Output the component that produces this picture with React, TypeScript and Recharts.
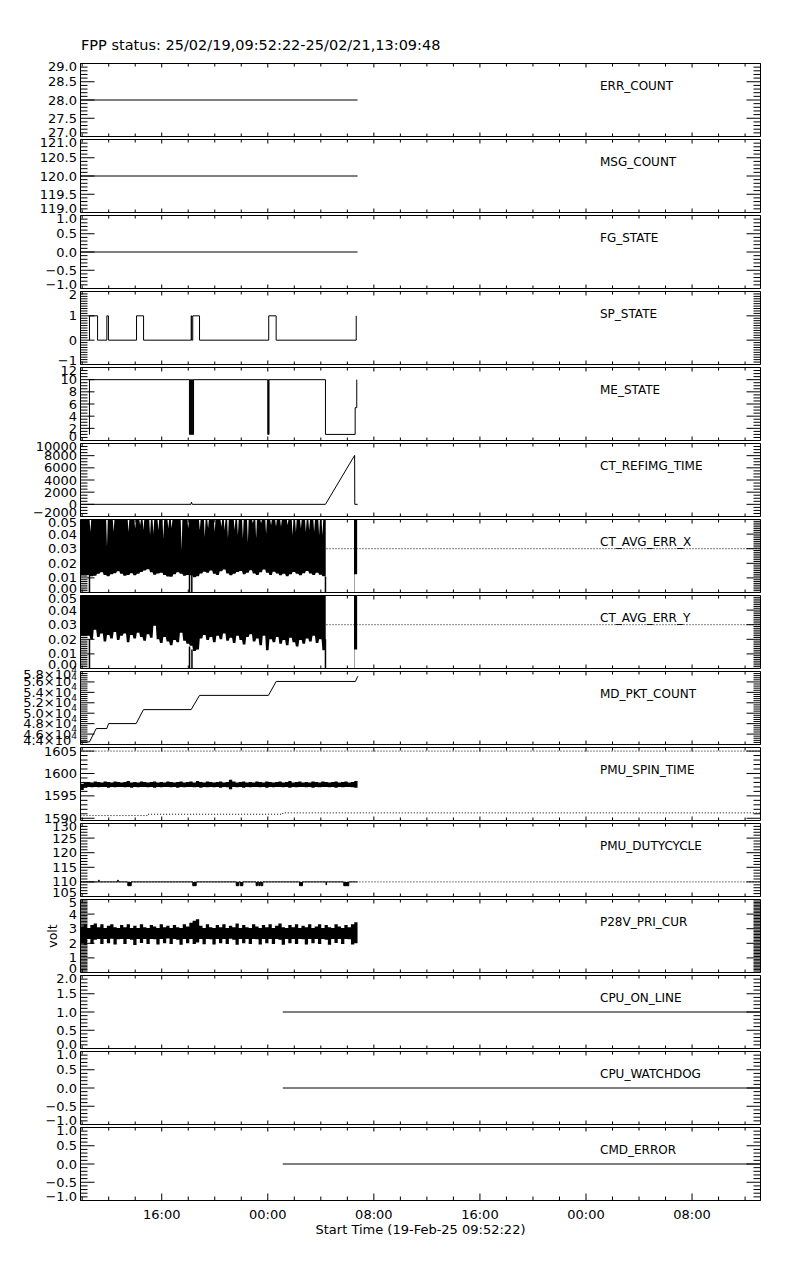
import React from 'react';
import { ComposedChart, Line, Area, XAxis, YAxis, ReferenceArea } from 'recharts';

const FONT = '"DejaVu Sans", sans-serif';

// ---------- time axis: hours counted from 19-Feb-25 00:00 ----------
const T_START = 9.873; // 19-Feb-25 09:52:22
const T_END = 61.163; // 21-Feb-25 13:09:48
const X_TICKS = [10, 12, 14, 16, 18, 20, 22, 24, 26, 28, 30, 32, 34, 36, 38, 40, 42, 44, 46, 48, 50, 52, 54, 56, 58, 60];
const X_MAJOR = [16, 24, 32, 40, 48, 56];
const X_MAJOR_LABELS = ['16:00', '00:00', '08:00', '16:00', '00:00', '08:00'];
const TITLE = 'FPP status: 25/02/19,09:52:22-25/02/21,13:09:48';
const X_TITLE = 'Start Time (19-Feb-25 09:52:22)';

// ---------- series ----------
const ERR_COUNT_T = [9.87, 30.77];
const ERR_COUNT_V = [28, 28];
const MSG_COUNT_T = [9.87, 30.77];
const MSG_COUNT_V = [120, 120];
const FG_STATE_T = [9.87, 30.77];
const FG_STATE_V = [0, 0];

const SP_STATE_T = [10.54, 10.55, 11.16, 11.86, 11.98, 14.10, 14.63, 18.22, 18.26, 18.34, 18.85, 24.07, 24.63, 30.67];
const SP_STATE_V = [0, 1, 0, 1, 0, 1, 0, 1, 0, 1, 0, 1, 0, 1];

const ME_STATE_T = [10.54, 10.55, 18.09, 18.13, 18.16, 18.20, 18.23, 18.27, 18.30, 18.34, 18.37, 18.40, 24.00, 24.04, 24.06, 24.09, 28.35, 30.59, 30.71];
const ME_STATE_V = [1, 10, 1, 10, 1, 10, 1, 10, 1, 10, 1, 10, 1, 10, 1, 10, 1, 5.4, 10];

const REFIMG_T = [9.87, 18.20, 18.24, 18.30, 28.35, 30.55, 30.56, 30.78];
const REFIMG_V = [0, 0, 350, 0, 0, 8050, 0, 0];

// CT_AVG_ERR: sample grid + lower envelope (one value per 0.25 h), upper-envelope dips
const ERR_T0 = 9.87;
const ERR_DT = 0.25;
const ERR_SUB = 4;
const ERR_TOP = 0.05;
const ERR_LIMIT = 0.03;
const ERR_X_LO = [
  0.0118, 0.0118, 0.0120, 0.0112, 0.0115, 0.0128, 0.0138, 0.0120, 0.0112, 0.0125,
  0.0132, 0.0145, 0.0128, 0.0115, 0.0120, 0.0132, 0.0118, 0.0128, 0.0140, 0.0150,
  0.0160, 0.0138, 0.0122, 0.0130, 0.0135, 0.0120, 0.0110, 0.0108, 0.0125, 0.0138,
  0.0128, 0.0115, 0.0120, 0.0118, 0.0105, 0.0112, 0.0130, 0.0142, 0.0135, 0.0150,
  0.0128, 0.0120, 0.0145, 0.0158, 0.0130, 0.0118, 0.0128, 0.0140, 0.0148, 0.0125,
  0.0135, 0.0152, 0.0130, 0.0120, 0.0138, 0.0158, 0.0135, 0.0120, 0.0142, 0.0130,
  0.0118, 0.0128, 0.0112, 0.0125, 0.0140, 0.0128, 0.0118, 0.0132, 0.0148, 0.0130,
  0.0120, 0.0135, 0.0122, 0.0112, 0.0110,
];
// [half-sample index, upper value]
const ERR_X_HI_DIPS = [
  [6, 0.0415], [16, 0.0312], [20, 0.0415], [29, 0.0415], [33, 0.0438], [36, 0.046], [38, 0.0426],
  [42, 0.0392], [44, 0.040], [47, 0.0426], [50, 0.037], [53, 0.044], [55, 0.044], [61, 0.029],
  [65, 0.044], [72, 0.0426], [75, 0.038], [77, 0.044], [81, 0.0415], [85, 0.045], [87, 0.0426],
  [89, 0.037], [93, 0.0426], [95, 0.039], [98, 0.037], [101, 0.034], [104, 0.0475], [106, 0.037],
  [109, 0.0475], [112, 0.040], [115, 0.046], [118, 0.045], [121, 0.045], [125, 0.046], [128, 0.039],
  [130, 0.0415], [133, 0.044], [136, 0.0415], [138, 0.0426], [141, 0.0415], [144, 0.039], [146, 0.039],
];
const ERR_Y_LO = [
  0.0226, 0.0226, 0.0225, 0.0200, 0.0265, 0.0215, 0.0240, 0.0185, 0.0230, 0.0205,
  0.0250, 0.0195, 0.0225, 0.0240, 0.0180, 0.0230, 0.0205, 0.0245, 0.0215, 0.0190,
  0.0235, 0.0210, 0.0292, 0.0200, 0.0175, 0.0215, 0.0185, 0.0160, 0.0195, 0.0180,
  0.0245, 0.0190, 0.0170, 0.0155, 0.0120, 0.0130, 0.0205, 0.0230, 0.0195, 0.0215,
  0.0180, 0.0225, 0.0200, 0.0240, 0.0190, 0.0210, 0.0175, 0.0225, 0.0195, 0.0165,
  0.0215, 0.0235, 0.0185, 0.0205, 0.0160, 0.0225, 0.0125, 0.0200, 0.0180, 0.0215,
  0.0170, 0.0195, 0.0160, 0.0210, 0.0180, 0.0150, 0.0195, 0.0170, 0.0205, 0.0185,
  0.0225, 0.0175, 0.0200, 0.0125, 0.0180,
];
const ERR_Y_HI_DIPS: number[][] = [];
// drops to zero
const ERR_X_DROP_T = [10.55, 18.095, 18.27, 28.35];
const ERR_X_DROP_TOP = [0.012, 0.012, 0.012, 0.011];
const ERR_Y_DROP_T = [10.55, 18.095, 18.28, 28.35];
const ERR_Y_DROP_TOP = [0.020, 0.015, 0.013, 0.020];
// short burst at the end
const ERR_TAIL_T = [30.50, 30.53, 30.74];
const ERR_X_TAIL_LO = [0, 0.0125, 0.0125];
const ERR_Y_TAIL_LO = [0, 0.013, 0.013];

const MD_PKT_T = [9.87, 10.55, 11.06, 11.86, 11.99, 14.07, 14.62, 18.22, 18.85, 24.05, 24.63, 30.61, 30.79];
const MD_PKT_V = [44500, 44500, 47060, 47060, 48010, 48010, 50690, 50690, 53420, 53420, 56090, 56090, 57100];

// dense telemetry bands: grid from start to end of data
const BAND_T0 = 9.87;
const BAND_DT = 0.2488;
const SPIN_HI = [
  1597.7, 1598.0, 1598.1, 1598.0, 1598.2, 1598.1, 1598.0, 1598.2, 1598.1, 1598.0,
  1598.2, 1598.1, 1598.0, 1598.1, 1598.3, 1598.0, 1598.1, 1598.0, 1598.2, 1598.1,
  1598.0, 1598.1, 1598.2, 1598.0, 1598.1, 1598.0, 1598.2, 1598.1, 1598.0, 1598.1,
  1598.2, 1598.0, 1598.1, 1598.2, 1598.0, 1598.3, 1598.1, 1598.0, 1598.2, 1598.1,
  1598.0, 1598.1, 1598.2, 1598.0, 1598.1, 1598.6, 1598.2, 1598.0, 1598.1, 1598.2,
  1598.0, 1598.1, 1598.0, 1598.2, 1598.1, 1598.0, 1598.2, 1598.1, 1598.0, 1598.1,
  1598.2, 1598.0, 1598.1, 1598.3, 1598.0, 1598.1, 1598.2, 1598.0, 1598.1, 1598.0,
  1598.2, 1598.1, 1598.0, 1598.2, 1598.1, 1598.0, 1598.1, 1598.2, 1598.0, 1598.1,
  1598.2, 1598.0, 1598.1, 1598.3, 1598.1,
];
const SPIN_LO = [
  1596.3, 1596.8, 1597.0, 1596.9, 1597.0, 1596.9, 1597.0, 1597.0, 1596.8, 1597.0,
  1596.9, 1597.0, 1597.0, 1596.9, 1597.0, 1596.8, 1597.0, 1596.9, 1597.0, 1597.0,
  1596.9, 1597.0, 1596.8, 1597.0, 1596.9, 1597.0, 1597.0, 1596.9, 1597.0, 1596.8,
  1597.0, 1596.9, 1597.0, 1597.0, 1596.9, 1597.0, 1596.8, 1597.0, 1596.9, 1597.0,
  1596.9, 1597.0, 1596.8, 1597.0, 1596.9, 1596.5, 1597.0, 1596.9, 1597.0, 1596.8,
  1597.0, 1596.9, 1597.0, 1597.0, 1596.9, 1597.0, 1596.8, 1597.0, 1596.9, 1597.0,
  1597.0, 1596.9, 1597.0, 1596.8, 1597.0, 1596.9, 1597.0, 1597.0, 1596.9, 1597.0,
  1596.8, 1597.0, 1596.9, 1597.0, 1597.0, 1596.9, 1597.0, 1596.8, 1597.0, 1596.9,
  1597.0, 1597.0, 1596.9, 1596.8, 1597.0,
];
const SPIN_LIMIT_HI_T = [9.87, 61.16];
const SPIN_LIMIT_HI_V = [1605, 1605];
const SPIN_LIMIT_LO_T = [9.87, 14.90, 25.13, 61.16];
const SPIN_LIMIT_LO_V = [1590.6, 1590.9, 1591.2, 1591.2];

const DUTY_T = [9.87, 11.24, 11.28, 12.68, 12.72, 13.44, 13.70, 18.34, 18.60, 21.62, 21.81, 21.92, 22.12, 23.12, 23.22, 23.32, 23.43, 23.50, 23.62, 26.39, 26.62, 28.39, 28.43, 29.73, 30.11, 30.77];
const DUTY_V = [110, 110.6, 110, 110.6, 110, 108.7, 110, 108.7, 110, 108.7, 110, 108.7, 110, 108.7, 110, 108.7, 110, 108.7, 110, 108.7, 110, 109.0, 110, 108.7, 110, 110];
const DUTY_NOMINAL = 110;
const DUTY_LIMIT_T = [9.87, 61.16];
const DUTY_LIMIT_V = [110, 110];

const P28V_HI = [
  3.15, 3.30, 3.05, 3.25, 3.35, 3.10, 3.30, 3.05, 3.20, 3.30,
  3.10, 3.05, 3.25, 3.10, 3.30, 3.05, 3.20, 3.05, 3.30, 3.10,
  3.05, 3.25, 3.15, 3.05, 3.30, 3.10, 3.20, 3.05, 3.25, 3.10,
  3.05, 3.30, 3.15, 3.40, 3.55, 3.65, 3.20, 3.05, 3.30, 3.10,
  3.05, 3.25, 3.10, 3.30, 3.05, 3.20, 3.10, 3.35, 3.05, 3.25,
  3.10, 3.05, 3.30, 3.15, 3.05, 3.25, 3.10, 3.30, 3.05, 3.20,
  3.35, 3.10, 3.05, 3.25, 3.10, 3.30, 3.05, 3.20, 3.10, 3.30,
  3.05, 3.15, 3.30, 3.05, 3.25, 3.10, 3.05, 3.30, 3.15, 3.05,
  3.25, 3.10, 3.30, 3.45, 3.20,
];
const P28V_LO = [
  2.00, 1.90, 2.30, 1.95, 2.25, 2.30, 1.95, 2.30, 2.00, 2.32,
  1.92, 2.28, 2.30, 1.95, 2.30, 2.25, 1.88, 2.30, 2.02, 2.30,
  1.95, 2.30, 2.28, 1.92, 2.30, 2.00, 2.33, 1.95, 2.30, 2.25,
  1.90, 2.30, 2.00, 2.30, 1.95, 2.05, 2.30, 1.93, 2.30, 2.28,
  1.92, 2.30, 2.00, 2.30, 1.95, 2.31, 2.25, 1.90, 2.30, 2.00,
  2.30, 1.95, 2.30, 2.28, 1.92, 2.30, 2.00, 2.30, 1.96, 2.30,
  2.25, 1.90, 2.30, 2.00, 2.30, 1.95, 2.30, 2.28, 1.92, 2.30,
  2.00, 2.30, 1.95, 2.30, 2.25, 1.90, 2.30, 2.02, 2.30, 1.95,
  2.30, 2.28, 1.92, 2.00, 2.30,
];

const CPU_ON_T = [25.13, 61.16];
const CPU_ON_V = [1, 1];
const WATCHDOG_T = [25.13, 61.16];
const WATCHDOG_V = [0, 0];
const CMD_ERR_T = [25.13, 61.16];
const CMD_ERR_V = [0, 0];

// ---------- layout ----------
const CHART_W = 800;
const PLOT_L = 80.5;
const PLOT_R = 760.5;
const PAD_T = 20.5;
const PLOT_H = 73;
const PITCH = 76;
const FIRST_DIV_TOP = 43;
const Y_AXIS_W = 60;
const TICK_FONT = 13;

// ---------- helpers ----------
const pts = (t: number[], v: number[]) => t.map((x, i) => ({ t: x, v: v[i] }));
const vline = (t: number, top: number) => [{ t, v: 0 }, { t, v: top }];
const band = (t0: number, dt: number, lo: number[], hi: number[]) =>
  lo.slice(0, Math.min(lo.length, hi.length)).map((l, i) => ({ t: +(t0 + i * dt).toFixed(4), r: [l, hi[i]] }));
const errBand = (lo: number[], dips: number[][]) => {
  const out: { t: number; r: number[] }[] = [];
  const n = (lo.length - 1) * ERR_SUB;
  for (let j = 0; j <= n; j++) {
    const d = dips.find((s) => s[0] * (ERR_SUB / 2) === j);
    out.push({ t: +(ERR_T0 + (j * ERR_DT) / ERR_SUB).toFixed(5), r: [lo[Math.floor(j / ERR_SUB)], d ? d[1] : ERR_TOP] });
  }
  return out;
};

const line = (key: string, data: any[], o: { type?: any; w?: number; dash?: string } = {}) => (
  <Line
    key={key}
    data={data}
    dataKey="v"
    type={o.type || 'linear'}
    stroke="#000"
    strokeWidth={o.w || 1}
    strokeDasharray={o.dash}
    dot={false}
    activeDot={false}
    isAnimationActive={false}
  />
);
const area = (key: string, data: any[], type: any = 'stepAfter') => (
  <Area
    key={key}
    data={data}
    dataKey="r"
    type={type}
    stroke="none"
    fill="#000"
    fillOpacity={1}
    dot={false}
    activeDot={false}
    isAnimationActive={false}
  />
);

const buildTicks = (domain: number[], step: number, majors: number[]) => {
  const out: number[] = [];
  const n0 = Math.ceil(domain[0] / step - 1e-6);
  const n1 = Math.floor(domain[1] / step + 1e-6);
  for (let k = n0; k <= n1; k++) out.push(+(k * step).toFixed(8));
  majors.forEach((m) => {
    if (!out.some((v) => Math.abs(v - m) < step * 1e-3)) out.push(m);
  });
  return out.sort((a, b) => a - b);
};

type PanelCfg = {
  name: string;
  domain: number[];
  majors: number[];
  labels: string[];
  minor: number;
  ylabel?: string;
  series: React.ReactNode[];
};

const M = '\u2212';
const PM1_MAJ = [-1, -0.5, 0, 0.5, 1];
const PM1_LAB = [M + '1.0', M + '0.5', '0.0', '0.5', '1.0'];

const PANELS: PanelCfg[] = [
  {
    name: 'ERR_COUNT', domain: [27, 29], majors: [27, 27.5, 28, 28.5, 29],
    labels: ['27.0', '27.5', '28.0', '28.5', '29.0'], minor: 0.1,
    series: [line('err', pts(ERR_COUNT_T, ERR_COUNT_V))],
  },
  {
    name: 'MSG_COUNT', domain: [119, 121], majors: [119, 119.5, 120, 120.5, 121],
    labels: ['119.0', '119.5', '120.0', '120.5', '121.0'], minor: 0.1,
    series: [line('msg', pts(MSG_COUNT_T, MSG_COUNT_V))],
  },
  {
    name: 'FG_STATE', domain: [-1, 1], majors: PM1_MAJ, labels: PM1_LAB, minor: 0.1,
    series: [line('fg', pts(FG_STATE_T, FG_STATE_V))],
  },
  {
    name: 'SP_STATE', domain: [-1, 2], majors: [-1, 0, 1, 2], labels: [M + '1', '0', '1', '2'], minor: 0.1,
    series: [line('sp', pts(SP_STATE_T, SP_STATE_V), { type: 'stepAfter' })],
  },
  {
    name: 'ME_STATE', domain: [0, 12], majors: [0, 2, 4, 6, 8, 10, 12],
    labels: ['0', '2', '4', '6', '8', '10', '12'], minor: 0.5,
    series: [line('me', pts(ME_STATE_T, ME_STATE_V), { type: 'stepAfter' })],
  },
  {
    name: 'CT_REFIMG_TIME', domain: [-2000, 10000], majors: [-2000, 0, 2000, 4000, 6000, 8000, 10000],
    labels: [M + '2000', '0', '2000', '4000', '6000', '8000', '10000'], minor: 500,
    series: [line('ref', pts(REFIMG_T, REFIMG_V))],
  },
  {
    name: 'CT_AVG_ERR_X', domain: [0, 0.05], majors: [0, 0.01, 0.02, 0.03, 0.04, 0.05],
    labels: ['0.00', '0.01', '0.02', '0.03', '0.04', '0.05'], minor: 0.00125,
    series: [
      line('xlim', pts([T_START, T_END], [ERR_LIMIT, ERR_LIMIT]), { dash: '1 2' }),
      area('xband', errBand(ERR_X_LO, ERR_X_HI_DIPS), 'linear'),
      area('xtail', ERR_TAIL_T.map((t, i) => ({ t, r: [ERR_X_TAIL_LO[i], ERR_TOP] }))),
      ...ERR_X_DROP_T.map((t, i) => line('xd' + i, vline(t, ERR_X_DROP_TOP[i]), { w: 1.5 })),
    ],
  },
  {
    name: 'CT_AVG_ERR_Y', domain: [0, 0.05], majors: [0, 0.01, 0.02, 0.03, 0.04, 0.05],
    labels: ['0.00', '0.01', '0.02', '0.03', '0.04', '0.05'], minor: 0.00125,
    series: [
      line('ylim', pts([T_START, T_END], [ERR_LIMIT, ERR_LIMIT]), { dash: '1 2' }),
      area('yband', errBand(ERR_Y_LO, ERR_Y_HI_DIPS), 'linear'),
      area('ytail', ERR_TAIL_T.map((t, i) => ({ t, r: [ERR_Y_TAIL_LO[i], ERR_TOP] }))),
      ...ERR_Y_DROP_T.map((t, i) => line('yd' + i, vline(t, ERR_Y_DROP_TOP[i]), { w: 1.5 })),
    ],
  },
  {
    name: 'MD_PKT_COUNT', domain: [44000, 58000],
    majors: [44000, 46000, 48000, 50000, 52000, 54000, 56000, 58000],
    labels: ['4.4\u00d710^4', '4.6\u00d710^4', '4.8\u00d710^4', '5.0\u00d710^4', '5.2\u00d710^4', '5.4\u00d710^4', '5.6\u00d710^4', '5.8\u00d710^4'],
    minor: 400,
    series: [line('md', pts(MD_PKT_T, MD_PKT_V))],
  },
  {
    name: 'PMU_SPIN_TIME', domain: [1589.5, 1605.8], majors: [1590, 1595, 1600, 1605],
    labels: ['1590', '1595', '1600', '1605'], minor: 1,
    series: [
      line('slh', pts(SPIN_LIMIT_HI_T, SPIN_LIMIT_HI_V), { dash: '1 2' }),
      line('sll', pts(SPIN_LIMIT_LO_T, SPIN_LIMIT_LO_V), { dash: '1 2', type: 'stepAfter' }),
      area('spin', band(BAND_T0, BAND_DT, SPIN_LO, SPIN_HI)),
    ],
  },
  {
    name: 'PMU_DUTYCYCLE', domain: [105, 130], majors: [105, 110, 115, 120, 125, 130],
    labels: ['105', '110', '115', '120', '125', '130'], minor: 1,
    series: [
      line('dlim', pts(DUTY_LIMIT_T, DUTY_LIMIT_V), { dash: '1 2' }),
      area('dutyfill', DUTY_T.map((t, i) => ({ t, r: [Math.min(DUTY_V[i], DUTY_NOMINAL), Math.max(DUTY_V[i], DUTY_NOMINAL)] }))),
      line('duty', pts(DUTY_T, DUTY_V), { type: 'stepAfter' }),
    ],
  },
  {
    name: 'P28V_PRI_CUR', domain: [0, 5], majors: [0, 1, 2, 3, 4, 5],
    labels: ['0', '1', '2', '3', '4', '5'], minor: 0.1, ylabel: 'volt',
    series: [area('p28', band(BAND_T0, BAND_DT, P28V_LO, P28V_HI))],
  },
  {
    name: 'CPU_ON_LINE', domain: [0, 2], majors: [0, 0.5, 1, 1.5, 2],
    labels: ['0.0', '0.5', '1.0', '1.5', '2.0'], minor: 0.1,
    series: [line('cpu', pts(CPU_ON_T, CPU_ON_V))],
  },
  {
    name: 'CPU_WATCHDOG', domain: [-1, 1], majors: PM1_MAJ, labels: PM1_LAB, minor: 0.1,
    series: [line('wd', pts(WATCHDOG_T, WATCHDOG_V))],
  },
  {
    name: 'CMD_ERROR', domain: [-1, 1], majors: PM1_MAJ, labels: PM1_LAB, minor: 0.1,
    series: [line('cmd', pts(CMD_ERR_T, CMD_ERR_V))],
  },
];

const textStyle = (size: number) => ({ fontFamily: FONT, fontSize: size });

const makeYTick = (cfg: PanelCfg) => (props: any) => {
  const y = props.y;
  const v = props.payload ? props.payload.value : 0;
  const tol = cfg.minor * 1e-3;
  const mi = cfg.majors.findIndex((m) => Math.abs(m - v) < tol);
  const major = mi >= 0;
  const len = major ? 14 : 7;
  let dy = 0;
  if (Math.abs(v - cfg.domain[1]) < tol) dy = 3;
  if (Math.abs(v - cfg.domain[0]) < tol) dy = -4;
  const lab = major ? cfg.labels[mi] : null;
  let content: React.ReactNode = lab;
  if (lab && lab.indexOf('^') >= 0) {
    const parts = lab.split('^');
    content = (
      <>
        {parts[0]}
        <tspan dy={-5} fontSize={9}>{parts[1]}</tspan>
      </>
    );
  }
  return (
    <g>
      <line x1={PLOT_L} y1={y} x2={PLOT_L + len} y2={y} stroke="#000" strokeWidth={1} />
      <line x1={PLOT_R} y1={y} x2={PLOT_R - len} y2={y} stroke="#000" strokeWidth={1} />
      {lab && (
        <text x={PLOT_L - 3.5} y={y + dy} textAnchor="end" dominantBaseline="central" fill="#000" style={textStyle(TICK_FONT)}>
          {content}
        </text>
      )}
    </g>
  );
};

const makeXTick = (last: boolean) => (props: any) => {
  const x = props.x;
  const v = props.payload ? props.payload.value : 0;
  const mi = X_MAJOR.indexOf(v);
  const major = mi >= 0;
  const top = PAD_T;
  const bot = PAD_T + PLOT_H;
  const tl = major ? 4 : 3;
  const bl = last ? (major ? 7 : 4) : major ? 4 : 3;
  return (
    <g>
      <line x1={x} x2={x} y1={top} y2={top + tl} stroke="#000" strokeWidth={1} />
      <line x1={x} x2={x} y1={bot} y2={bot - bl} stroke="#000" strokeWidth={1} />
      {last && major && (
        <text x={x} y={bot + 18.5} textAnchor="middle" fill="#000" style={textStyle(TICK_FONT)}>
          {X_MAJOR_LABELS[mi]}
        </text>
      )}
    </g>
  );
};

function Panel({ cfg, index, last }: { cfg: PanelCfg; index: number; last: boolean }) {
  const axisH = last ? 56 : 20;
  const h = PAD_T + PLOT_H + axisH + 0.5;
  const yTicks = buildTicks(cfg.domain, cfg.minor, cfg.majors);
  const nameLabel = () => (
    <text x={PLOT_L + 519.5} y={PAD_T + 26} fill="#000" style={textStyle(12)}>
      {cfg.name}
    </text>
  );
  const yLabel = cfg.ylabel
    ? () => (
        <text
          x={52.5}
          y={PAD_T + PLOT_H / 2}
          transform={`rotate(-90, 52.5, ${PAD_T + PLOT_H / 2})`}
          textAnchor="middle"
          dominantBaseline="central"
          fill="#000"
          style={textStyle(12.5)}
        >
          {cfg.ylabel}
        </text>
      )
    : undefined;
  const xLabel = last
    ? () => (
        <text x={(PLOT_L + PLOT_R) / 2} y={PAD_T + PLOT_H + 33.5} textAnchor="middle" fill="#000" style={textStyle(13)}>
          {X_TITLE}
        </text>
      )
    : undefined;
  return (
    <div style={{ position: 'absolute', left: 0, top: FIRST_DIV_TOP + index * PITCH, width: CHART_W, height: h }}>
      <ComposedChart
        width={CHART_W}
        height={h}
        margin={{ top: PAD_T, right: CHART_W - PLOT_R, bottom: 0.5, left: PLOT_L - Y_AXIS_W }}
      >
        <XAxis
          type="number"
          dataKey="t"
          domain={[T_START, T_END]}
          allowDataOverflow
          ticks={X_TICKS}
          interval={0}
          tick={makeXTick(last)}
          tickLine={false}
          axisLine={false}
          tickSize={0}
          tickMargin={0}
          height={axisH}
          label={xLabel}
        />
        <YAxis
          type="number"
          domain={cfg.domain}
          allowDataOverflow
          ticks={yTicks}
          interval={0}
          tick={makeYTick(cfg)}
          tickLine={false}
          axisLine={false}
          tickSize={0}
          tickMargin={0}
          width={Y_AXIS_W}
          label={yLabel}
        />
        {cfg.series}
        <ReferenceArea
          x1={T_START}
          x2={T_END}
          y1={cfg.domain[0]}
          y2={cfg.domain[1]}
          fill="none"
          fillOpacity={0}
          stroke="#000"
          strokeWidth={1}
          ifOverflow="visible"
          label={nameLabel}
        />
      </ComposedChart>
    </div>
  );
}

export default function App() {
  return (
    <div style={{ position: 'absolute', left: 0, top: 0, width: 800, height: 1280, background: '#fff', overflow: 'hidden' }}>
      <svg width={800} height={60} style={{ position: 'absolute', left: 0, top: 0 }}>
        <text x={81} y={50} fill="#000" style={textStyle(14.5)}>
          {TITLE}
        </text>
      </svg>
      {PANELS.map((cfg, i) => (
        <Panel key={cfg.name} cfg={cfg} index={i} last={i === PANELS.length - 1} />
      ))}
    </div>
  );
}
